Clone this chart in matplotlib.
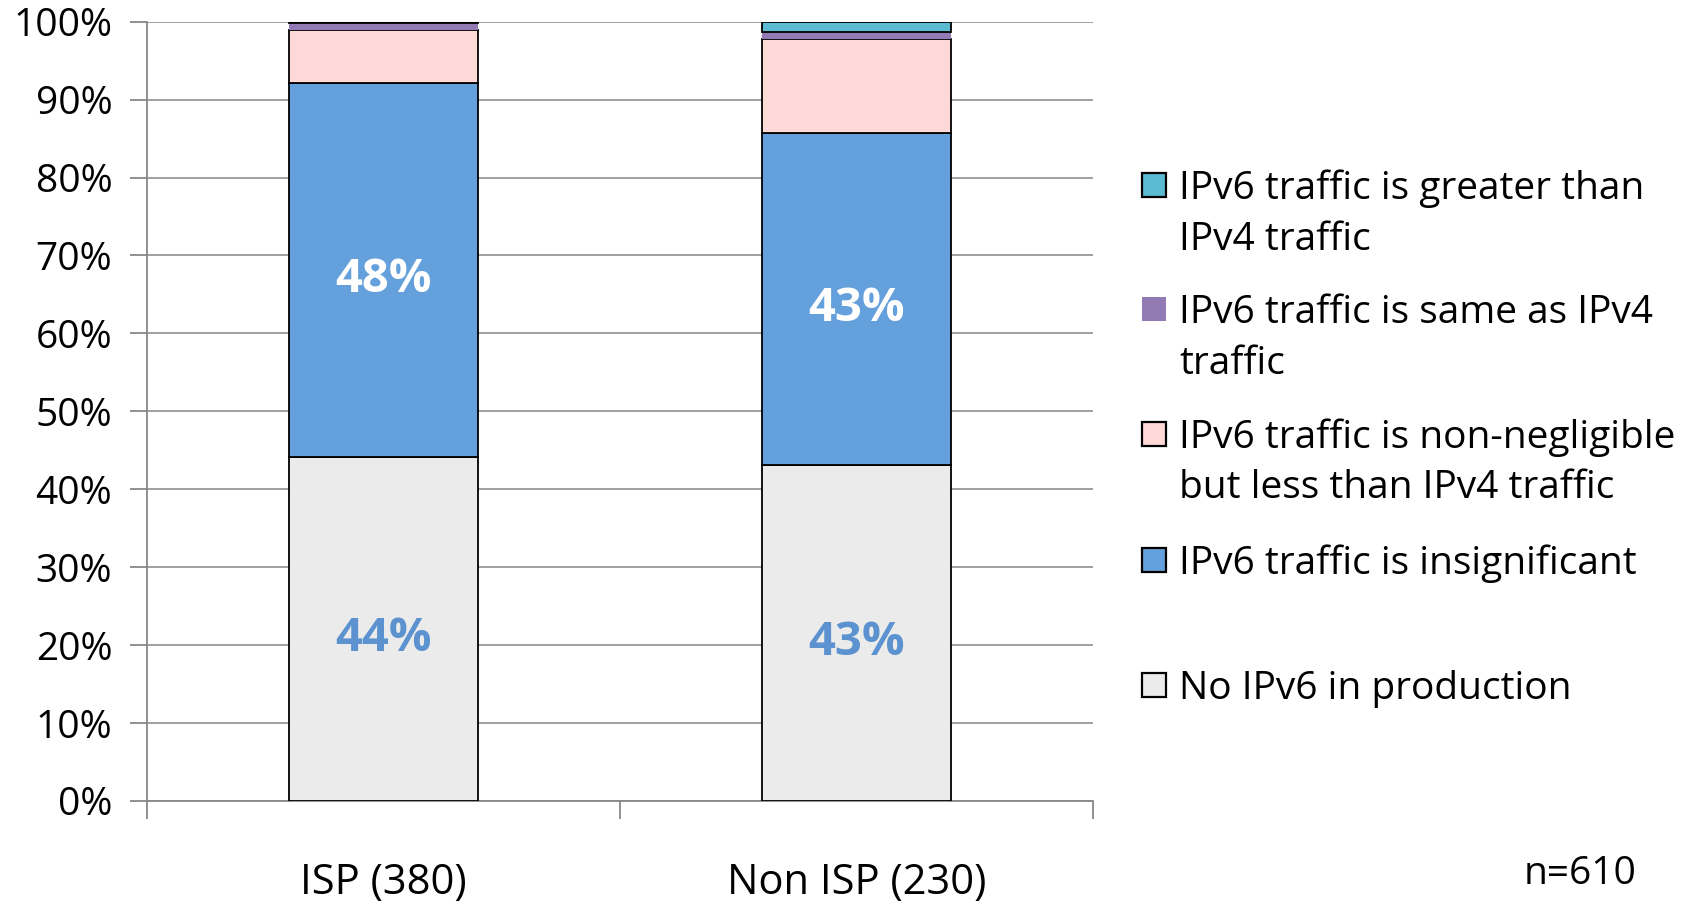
import numpy as np
import matplotlib.pyplot as plt
from matplotlib.patches import Rectangle

plt.rcParams['font.family'] = ['Open Sans', 'DejaVu Sans']

categories = ['ISP (380)', 'Non ISP (230)']
# stacked from bottom to top, percent of respondents
no_ipv6 = [44.2, 43.1]
insignificant = [47.9, 42.6]
non_negligible = [6.9, 12.1]
same_as_v4 = [0.8, 0.9]
greater_than_v4 = [0.2, 1.3]

series = [no_ipv6, insignificant, non_negligible, same_as_v4, greater_than_v4]
colors = ['#ebebeb', '#64a0dc', '#ffd8d8', '#927bb4', '#5bbbd0']
labels = ['No IPv6 in production',
          'IPv6 traffic is insignificant',
          'IPv6 traffic is non-negligible\nbut less than IPv4 traffic',
          'IPv6 traffic is same as IPv4\ntraffic',
          'IPv6 traffic is greater than\nIPv4 traffic']
edges = ['black', 'black', 'black', 'none', 'black']

fig = plt.figure(figsize=(16.97, 9.05), dpi=100)
ax = fig.add_axes([0.0866, 0.115, 0.5574, 0.861])

x = np.arange(len(categories))
bottom = np.zeros(len(categories))
for vals, col, ec in zip(series, colors, edges):
    ax.bar(x, vals, 0.4, bottom=bottom, color=col, edgecolor=ec, linewidth=1.3, zorder=3)
    bottom += np.array(vals)

# data labels (sit a touch below segment centre, like the original)
for i in range(len(categories)):
    ax.annotate(f'{round(no_ipv6[i])}%', (x[i], no_ipv6[i] / 2), xytext=(0, -7),
                textcoords='offset points', ha='center', va='center',
                fontsize=34, fontweight='bold', color='#5b92cf', zorder=4)
    mid = no_ipv6[i] + insignificant[i] / 2
    ax.annotate(f'{round(insignificant[i])}%', (x[i], mid), xytext=(0, -7),
                textcoords='offset points', ha='center', va='center',
                fontsize=34, fontweight='bold', color='white', zorder=4)

ax.set_xlim(-0.5, 1.5)
ax.set_ylim(0, 100)
ax.set_yticks(np.arange(0, 101, 10))
ax.set_yticklabels([f'{v}%' for v in range(0, 101, 10)], fontsize=28)
ax.yaxis.grid(True, color='#999999', linewidth=1.3, zorder=0)
ax.set_xticks([-0.5, 0.5, 1.5])
ax.set_xticklabels([])
ax.set_xticks(x, minor=True)
ax.set_xticklabels(categories, minor=True, fontsize=30)
ax.tick_params(axis='x', which='major', direction='out', length=13, color='#888888', width=1.3)
ax.tick_params(axis='x', which='minor', length=0, pad=44)
ax.tick_params(axis='y', direction='out', length=12, color='#888888', width=1.3, pad=13)
for s in ['top', 'right']:
    ax.spines[s].set_visible(False)
for s in ['left', 'bottom']:
    ax.spines[s].set_color('#888888')
    ax.spines[s].set_linewidth(1.3)

# legend, top entry first
ys = [184, 308.5, 433, 559.5, 684]
for lab, col, y in zip(labels[::-1], colors[::-1], ys):
    yf = 1 - y / 905
    ec = 'none' if col == '#927bb4' else 'black'
    fig.patches.append(Rectangle((1142 / 1697, yf - 13 / 905), 24 / 1697, 24 / 905,
                                 transform=fig.transFigure, facecolor=col,
                                 edgecolor=ec, linewidth=1.6))
    for k, line in enumerate(lab.split('\n')):
        fig.text(1179 / 1697, yf - k * 51 / 905, line, fontsize=28, va='center_baseline',
                 ha='left')

fig.text(1580 / 1697, 1 - 874 / 905, 'n=610', fontsize=28, ha='center', va='center')

fig.savefig('out.png', dpi=100)
